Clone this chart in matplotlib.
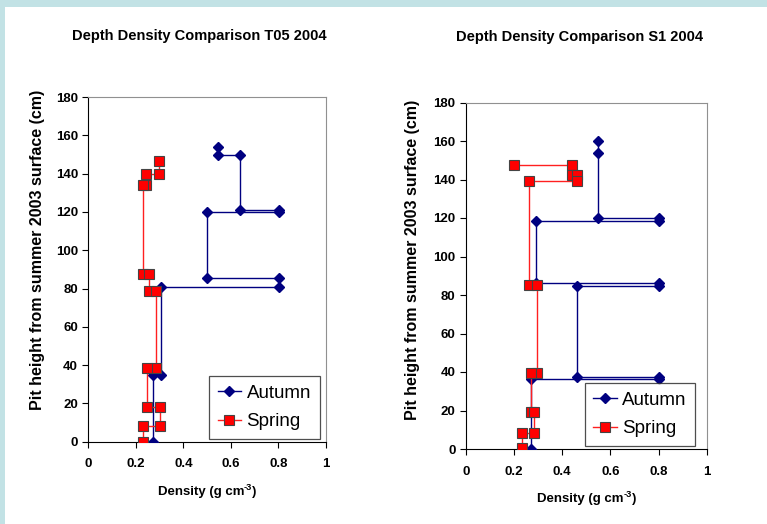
import matplotlib
matplotlib.use("Agg")
import matplotlib.pyplot as plt
from matplotlib.patches import Rectangle

plt.rcParams['font.family'] = ['Liberation Sans', 'DejaVu Sans']

# T05 2004 profiles (density g/cm3, height cm)
t05_autumn_density = [0.547, 0.547, 0.638, 0.638, 0.802, 0.802, 0.501, 0.501, 0.802, 0.802, 0.306, 0.306, 0.271, 0.271]
t05_autumn_height = [153.9, 149.9, 149.9, 120.9, 120.9, 120.0, 120.0, 85.7, 85.7, 80.9, 80.9, 34.8, 34.8, 0.0]
t05_spring_density = [0.296, 0.296, 0.241, 0.241, 0.231, 0.231, 0.255, 0.255, 0.283, 0.283, 0.245, 0.245, 0.302, 0.302, 0.231, 0.231]
t05_spring_height = [146.4, 140.0, 140.0, 134.1, 134.1, 87.8, 87.8, 78.8, 78.8, 38.3, 38.3, 18.1, 18.1, 8.0, 8.0, 0.0]

# S1 2004 profiles
s1_autumn_density = [0.547, 0.547, 0.547, 0.802, 0.802, 0.291, 0.291, 0.802, 0.802, 0.460, 0.460, 0.802, 0.802, 0.271, 0.271]
s1_autumn_height = [160.2, 153.6, 120.0, 120.0, 118.4, 118.4, 86.1, 86.1, 84.7, 84.7, 37.2, 37.2, 36.2, 36.2, 0.0]
s1_spring_density = [0.201, 0.442, 0.442, 0.460, 0.460, 0.262, 0.262, 0.296, 0.296, 0.269, 0.269, 0.284, 0.284, 0.234, 0.234]
s1_spring_height = [147.5, 147.5, 142.3, 142.3, 139.2, 139.2, 85.2, 85.2, 39.3, 39.3, 19.4, 19.4, 8.3, 8.3, 0.3]

x_ticks = [0, 0.2, 0.4, 0.6, 0.8, 1]
x_tick_labels = ['0', '0.2', '0.4', '0.6', '0.8', '1']
y_ticks = list(range(0, 181, 20))

W, H = 767, 524
fig = plt.figure(figsize=(W / 100, H / 100), dpi=100)
fig.patch.set_facecolor('white')

# cyan slide border strips
fig.patches.append(Rectangle((0, 1 - 7 / H), 1, 7 / H, transform=fig.transFigure,
                             facecolor='#c2e2e5', edgecolor='none', zorder=0))
fig.patches.append(Rectangle((0, 0), 5 / W, 1, transform=fig.transFigure,
                             facecolor='#c2e2e5', edgecolor='none', zorder=0))
renderer = fig.canvas.get_renderer()


def px_axes(x0, x1, ytop, ybot):
    return fig.add_axes([x0 / W, 1 - ybot / H, (x1 - x0) / W, (ybot - ytop) / H])


def density_label(xc, yc):
    # "Density (g cm" + superscript "-3" + ")" built from plain text pieces
    size = 9.5
    parts = [('Density (g cm', size, 0), ('-3', size * 0.7, 4.5), (')', size, 0)]
    widths = []
    for s, fs, _ in parts:
        t = fig.text(0, 0, s, fontsize=fs, fontweight='bold')
        widths.append(t.get_window_extent(renderer).width)
        t.remove()
    x = xc - sum(widths) / 2
    for (s, fs, dy), w in zip(parts, widths):
        fig.text(x / W, 1 - (yc - dy) / H, s, ha='left', va='center', fontsize=fs, fontweight='bold')
        x += w


def draw_panel(ax, title, title_xy, autumn, spring, legend_box, xlabel_y, ylabel_xy):
    ax.plot(autumn[0], autumn[1], color='#000080', lw=1.0, marker='D', ms=5.5,
            mfc='#000080', mec='#000080', label='Autumn', zorder=3)
    ax.plot(spring[0], spring[1], color='#ff2020', lw=1.0, marker='s', ms=6.5,
            mfc='#ff0000', mec='#444444', mew=0.8, label='Spring', zorder=4)
    ax.set_xlim(0, 1)
    ax.set_ylim(0, 180)
    ax.set_xticks(x_ticks)
    ax.set_xticklabels(x_tick_labels)
    ax.set_yticks(y_ticks)
    for s in ['top', 'right']:
        ax.spines[s].set_color('#909090')
    for s in ['left', 'bottom']:
        ax.spines[s].set_color('black')
    ax.tick_params(axis='both', direction='out', length=4, width=0.8, labelsize=9.5,
                   top=False, right=False)
    ax.tick_params(axis='x', pad=8)
    for lab in ax.get_xticklabels() + ax.get_yticklabels():
        lab.set_fontweight('bold')
    leg = ax.legend(loc='center', bbox_to_anchor=legend_box, fontsize=13.5,
                    frameon=True, fancybox=False, borderpad=0.45, labelspacing=0.6,
                    handlelength=1.25, handletextpad=0.3, borderaxespad=0)
    leg.get_frame().set_edgecolor('#222222')
    leg.get_frame().set_linewidth(0.9)
    fig.text(title_xy[0] / W, 1 - title_xy[1] / H, title, ha='center', va='center',
             fontsize=10.5, fontweight='bold')
    bb = ax.get_position()
    density_label((bb.x0 + bb.x1) / 2 * W, xlabel_y)
    fig.text(ylabel_xy[0] / W, 1 - ylabel_xy[1] / H, 'Pit height from summer 2003 surface (cm)',
             ha='center', va='center', rotation=90, fontsize=11.5, fontweight='bold')


ax1 = px_axes(88.3, 326, 97, 441.7)
draw_panel(ax1, 'Depth Density Comparison T05 2004', (199, 36),
           (t05_autumn_density, t05_autumn_height), (t05_spring_density, t05_spring_height),
           (0.523, 0.003, 0.435, 0.193), 492, (38, 250))

ax2 = px_axes(466, 706.7, 102.5, 449)
draw_panel(ax2, 'Depth Density Comparison S1 2004', (580, 37),
           (s1_autumn_density, s1_autumn_height), (s1_spring_density, s1_spring_height),
           (0.507, 0.018, 0.432, 0.164), 499, (413, 260))

fig.savefig('out.png', dpi=100)
